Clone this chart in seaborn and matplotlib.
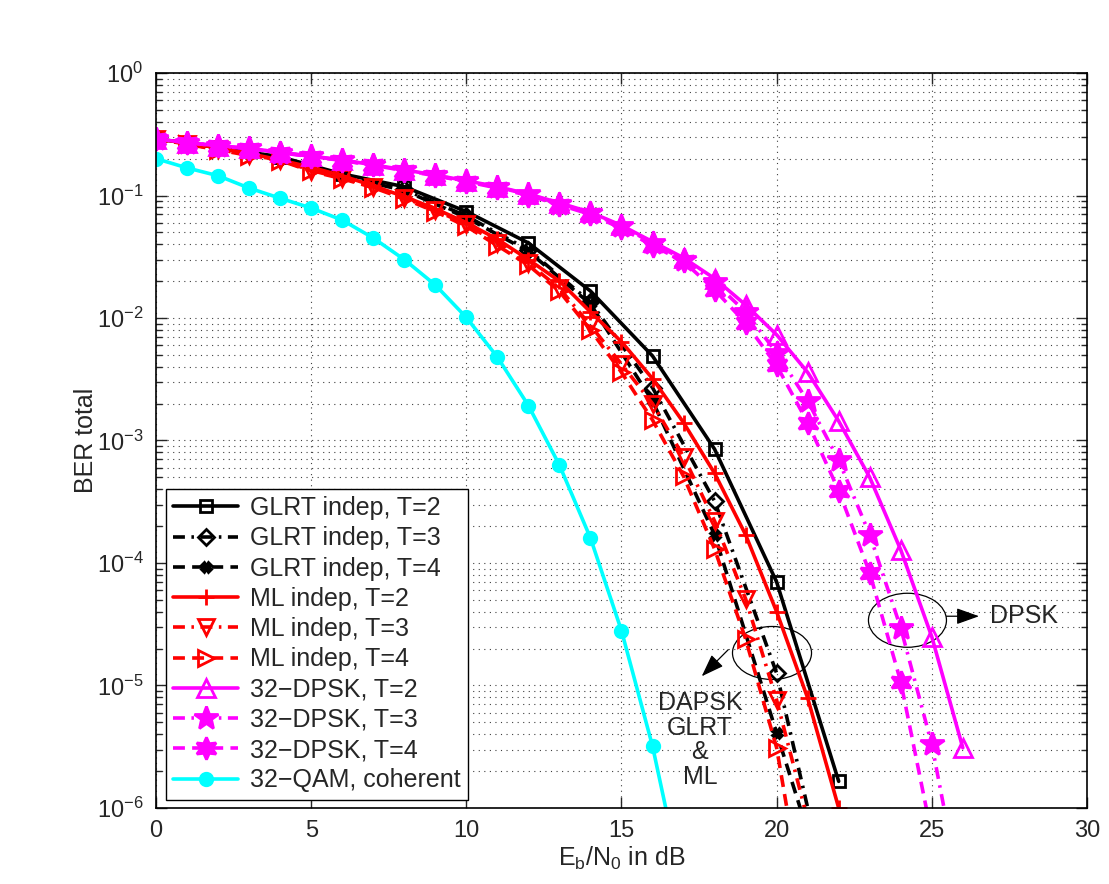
import numpy as np
import matplotlib
matplotlib.use("Agg")
import matplotlib.pyplot as plt
import matplotlib.patches as patches
import seaborn as sns

# ---- data (BER vs Eb/N0 in dB) ----
snr_qam = np.arange(0, 18)
ber_qam = [0.20, 0.168, 0.145, 0.115, 0.095, 0.079, 0.063, 0.045, 0.030, 0.0186,
           0.0101, 0.0048, 0.00193, 6.3e-4, 1.6e-4, 2.8e-5, 3.2e-6, 2.1e-7]

snr_glrt = np.arange(0, 24, 2)
ber_glrt_t2 = [0.29, 0.247, 0.207, 0.15, 0.118, 0.074, 0.041, 0.0166, 4.9e-3, 8.5e-4, 7.0e-5, 1.65e-6]
ber_glrt_t3 = [0.29, 0.245, 0.202, 0.146, 0.112, 0.068, 0.036, 0.0135, 2.7e-3, 3.2e-4, 1.26e-5, 8e-8]
ber_glrt_t4 = [0.29, 0.244, 0.200, 0.144, 0.110, 0.066, 0.035, 0.013, 2.1e-3, 1.7e-4, 4.1e-6, 1e-7]

snr_ml2 = np.arange(0, 23)
ber_ml_t2 = [0.29, 0.268, 0.245, 0.22, 0.195, 0.17, 0.145, 0.12, 0.098, 0.078, 0.06, 0.044,
             0.030, 0.020, 0.0112, 6.4e-3, 3.2e-3, 1.4e-3, 5.4e-4, 1.7e-4, 4.0e-5, 7.9e-6, 1.0e-6]
snr_ml34 = np.arange(0, 22)
ber_ml_t3 = [0.29, 0.264, 0.238, 0.214, 0.195, 0.16, 0.139, 0.118, 0.096, 0.076, 0.058, 0.041,
             0.028, 0.0175, 0.0087, 0.0042, 2.0e-3, 7.4e-4, 2.2e-4, 5.1e-5, 7.6e-6, 8e-7]
ber_ml_t4 = [0.29, 0.262, 0.236, 0.212, 0.193, 0.158, 0.137, 0.116, 0.094, 0.074, 0.056, 0.039,
             0.027, 0.0165, 0.008, 0.0036, 1.47e-3, 5.1e-4, 1.3e-4, 2.4e-5, 3.1e-6, 1e-7]

snr_dpsk2 = np.arange(0, 27)
ber_dpsk_t2 = [0.29, 0.27, 0.255, 0.243, 0.225, 0.21, 0.195, 0.178, 0.162, 0.147, 0.132, 0.118,
               0.103, 0.087, 0.073, 0.057, 0.042, 0.031, 0.021, 0.0128, 7.3e-3, 3.6e-3,
               1.44e-3, 5.0e-4, 1.28e-4, 2.5e-5, 3.1e-6]
snr_dpsk34 = np.arange(0, 27)
ber_dpsk_t3 = [0.29, 0.27, 0.255, 0.242, 0.224, 0.209, 0.194, 0.177, 0.161, 0.146, 0.131, 0.117,
               0.102, 0.086, 0.072, 0.056, 0.041, 0.030, 0.0195, 0.0112, 5.2e-3, 2.1e-3,
               6.9e-4, 1.7e-4, 2.95e-5, 3.3e-6, 1.6e-7]
ber_dpsk_t4 = [0.29, 0.27, 0.254, 0.241, 0.223, 0.208, 0.193, 0.176, 0.160, 0.145, 0.130, 0.115,
               0.100, 0.084, 0.070, 0.054, 0.039, 0.029, 0.017, 9.1e-3, 4.1e-3, 1.4e-3,
               3.9e-4, 8.3e-5, 1.07e-5, 6e-7, 3e-8]

sns.set_style("ticks")
plt.rcParams['font.family'] = ['Liberation Sans', 'DejaVu Sans']
plt.rcParams['mathtext.default'] = 'regular'
FS = 18

fig = plt.figure(figsize=(11.09, 8.84), dpi=100)
ax = fig.add_axes([0.1407, 0.086, 0.8394, 0.8314])
ax.set_yscale('log')

LW = 2.6
SOLID = '-'
DASH = (0, (3.3, 2.0))
DASHDOT = (0, (3.3, 1.8, 0.7, 1.8))
series = [
    # x, y, label, color, linestyle, marker, ms, filled
    (snr_glrt, ber_glrt_t2, 'GLRT indep, T=2', 'black', SOLID, 's', 8, False),
    (snr_glrt, ber_glrt_t3, 'GLRT indep, T=3', 'black', DASHDOT, 'D', 8, False),
    (snr_glrt, ber_glrt_t4, 'GLRT indep, T=4', 'black', DASH, 'X', 7, True),
    (snr_ml2, ber_ml_t2, 'ML indep, T=2', 'red', SOLID, '+', 11, False),
    (snr_ml34, ber_ml_t3, 'ML indep, T=3', 'red', DASHDOT, 'v', 12, False),
    (snr_ml34, ber_ml_t4, 'ML indep, T=4', 'red', DASH, '>', 12, False),
    (snr_dpsk2, ber_dpsk_t2, '32\u2212DPSK, T=2', 'magenta', SOLID, '^', 13, False),
    (snr_dpsk34, ber_dpsk_t3, '32\u2212DPSK, T=3', 'magenta', DASHDOT, '*', 18, True),
    (snr_dpsk34, ber_dpsk_t4, '32\u2212DPSK, T=4', 'magenta', DASH, (6, 1, 0), 16, True),
    (snr_qam, ber_qam, '32\u2212QAM, coherent', 'cyan', SOLID, 'o', 9, True),
]

for x, y, lab, col, ls, mk, ms, filled in series:
    sns.lineplot(x=x, y=y, ax=ax, color=col, linewidth=LW,
                 marker=mk, markersize=ms, markeredgewidth=2.0,
                 markerfacecolor=col if filled else 'none', markeredgecolor=col,
                 label=lab, estimator=None, sort=False, errorbar=None, legend=False)
    ax.lines[-1].set_linestyle(ls)

ax.set_xlim(0, 30)
ax.set_ylim(1e-6, 1)
ax.set_xticks(np.arange(0, 31, 5))
ax.set_yticks([1e-6, 1e-5, 1e-4, 1e-3, 1e-2, 1e-1, 1])
ax.yaxis.set_minor_locator(matplotlib.ticker.LogLocator(base=10, subs=np.arange(2, 10), numticks=20))
ax.yaxis.set_minor_formatter(matplotlib.ticker.NullFormatter())

grid_ls = (0, (1, 4))
ax.grid(True, which='major', axis='both', color='0.25', linestyle=grid_ls, linewidth=0.8)
ax.grid(True, which='minor', axis='y', color='0.25', linestyle=grid_ls, linewidth=0.8)

ax.tick_params(which='both', direction='in', top=True, right=True, labelsize=17, pad=9, width=1)
ax.tick_params(which='major', length=8)
ax.tick_params(which='minor', length=4)
for s in ax.spines.values():
    s.set_linewidth(1.2)
    s.set_color('black')

ax.set_xlabel(r'$E_b/N_0$ in dB', fontsize=FS, labelpad=2)
ax.set_ylabel('BER total', fontsize=FS, labelpad=-1)

leg = ax.legend(loc='lower left', bbox_to_anchor=(0.0107, 0.0109), borderaxespad=0,
                fontsize=FS, frameon=True, fancybox=False, framealpha=1,
                edgecolor='black', labelspacing=0.25, handlelength=2.6,
                handletextpad=0.45, borderpad=0.3)
leg.get_frame().set_linewidth(1.0)

# annotations
ax.add_patch(patches.Ellipse((0.6617, 0.2109), 0.0849, 0.0721, transform=ax.transAxes,
                             fill=False, edgecolor='black', linewidth=0.9))
ax.add_patch(patches.Ellipse((0.8072, 0.2554), 0.0838, 0.0735, transform=ax.transAxes,
                             fill=False, edgecolor='black', linewidth=0.9))
arrow = dict(arrowstyle='-|>,head_length=0.7,head_width=0.25', color='black',
             lw=0.9, mutation_scale=20, shrinkA=0, shrinkB=0)
ax.annotate('', xy=(0.5862, 0.1792), xytext=(0.6147, 0.2154),
            xycoords='axes fraction', textcoords='axes fraction', arrowprops=arrow)
ax.annotate('', xy=(0.8841, 0.2609), xytext=(0.8491, 0.2609),
            xycoords='axes fraction', textcoords='axes fraction', arrowprops=arrow)
ax.text(0.5843, 0.0925, 'DAPSK\nGLRT\n&\nML', transform=ax.transAxes, ha='center',
        va='center', fontsize=FS, linespacing=1.05)
ax.text(0.8958, 0.2612, 'DPSK', transform=ax.transAxes, ha='left', va='center', fontsize=FS)

fig.savefig('out.png', dpi=100)
